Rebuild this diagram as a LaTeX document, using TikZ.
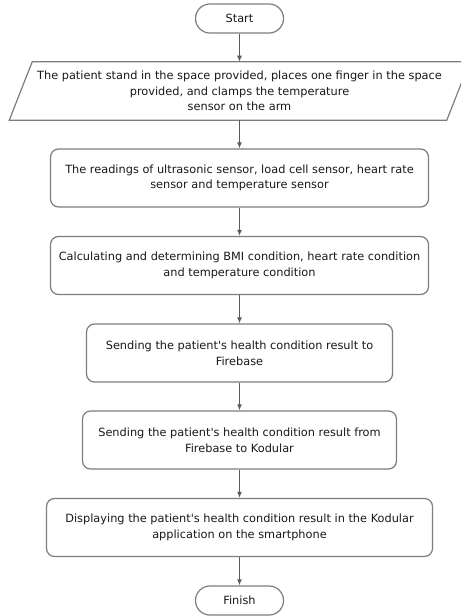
\documentclass[tikz,border=0pt]{standalone}
\usepackage{fontspec}
\setmainfont{DejaVu Sans}
\usetikzlibrary{arrows.meta,calc}
\definecolor{bordergray}{RGB}{125,125,125}
\definecolor{arrowgray}{RGB}{90,90,90}
\definecolor{txt}{RGB}{25,25,25}
\begin{document}
\begin{tikzpicture}[x=0.75pt,y=-0.75pt,
  every node/.style={font=\fontsize{8.5}{11.8}\selectfont, text=txt, align=center, inner sep=0pt},
  procbox/.style={draw=bordergray, line width=0.9pt, rounded corners=6pt, minimum height=43.5pt},
  termbox/.style={draw=bordergray, line width=0.9pt, rounded corners=10.8pt, minimum width=66pt, minimum height=21.75pt},
  flow/.style={draw=arrowgray, line width=0.9pt, -{Latex[length=4.5pt,width=3.8pt]}}]
\useasboundingbox (0,0) rectangle (461,616);
\clip (0,0) rectangle (461,616);
\fill[white] (0,0) rectangle (461,616);

\node[termbox] (start) at (239.5,18.5) {Start};
\node[minimum width=345pt, minimum height=43.5pt] (in) at (239.5,91) {The patient stand in the space provided, places one finger in the space\\provided, and clamps the temperature\\sensor on the arm};
\draw[bordergray, line width=0.9pt] (in.south west) -- ($(in.north west)+(23,0)$) -- (in.north east) -- ($(in.south east)+(-23,0)$) -- cycle;
\node[procbox, minimum width=283.5pt] (b1) at (239.5,178) {The readings of ultrasonic sensor, load cell sensor, heart rate\\sensor and temperature sensor};
\node[procbox, minimum width=283.5pt] (b2) at (239.5,265.5) {Calculating and determining BMI condition, heart rate condition\\and temperature condition};
\node[procbox, minimum width=229.5pt] (b3) at (239.5,353) {Sending the patient\textquotesingle s health condition result to\\Firebase};
\node[procbox, minimum width=235.5pt] (b4) at (239.5,440) {Sending the patient\textquotesingle s health condition result from\\Firebase to Kodular};
\node[procbox, minimum width=289.5pt] (b5) at (239.5,527.5) {Displaying the patient\textquotesingle s health condition result in the Kodular\\application on the smartphone};
\node[termbox] (finish) at (239.5,600.5) {Finish};

\draw[flow] (start) -- (in);
\draw[flow] (in) -- (b1);
\draw[flow] (b1) -- (b2);
\draw[flow] (b2) -- (b3);
\draw[flow] (b3) -- (b4);
\draw[flow] (b4) -- (b5);
\draw[flow] (b5) -- (finish);
\end{tikzpicture}
\end{document}
